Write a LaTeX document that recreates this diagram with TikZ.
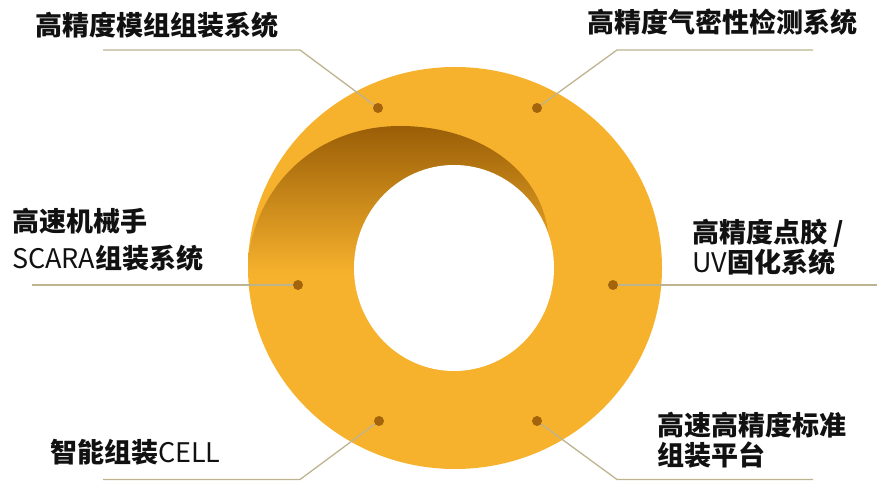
\documentclass[tikz,border=0pt]{standalone}
\usepackage{fontspec}
\setmainfont{Noto Sans CJK SC}

\definecolor{ringyellow}{HTML}{F7B22D}
\definecolor{shadedark}{HTML}{9A5E07}
\definecolor{shademid}{HTML}{CF8F1A}
\definecolor{dotbrown}{HTML}{A3640C}
\definecolor{leadgray}{HTML}{BDB48F}
\definecolor{textblack}{HTML}{111111}

\begin{document}
\begin{tikzpicture}[x=1pt, y=1pt,
  dot/.style={circle, fill=dotbrown, inner sep=0pt, minimum size=10pt},
  lead/.style={draw=leadgray, line width=1.3pt},
  tag/.style={anchor=west, inner sep=0pt, align=left, text=textblack,
    font=\fontsize{27}{37}\selectfont\bfseries},
  tagnarrow/.style={tag, font=\fontsize{27}{30}\selectfont\bfseries}]

\useasboundingbox (0,0) rectangle (877,481);

% Ring
\fill[ringyellow] (455,213) ellipse[x radius=207, y radius=201];

% Shadow over the upper left of the ring
\begin{scope}
  \clip (455,213) ellipse[x radius=207, y radius=201];
  \shade[top color=shadedark, middle color=shademid, bottom color=ringyellow]
    (246,206) .. controls (252,300) and (320,355) .. (400,355)
    .. controls (480,355) and (545,310) .. (549,240) -- (549,206) -- cycle;
\end{scope}

% Hole
\fill[white] (454,213) ellipse[x radius=100, y radius=103];

% Knees and ends of the leader lines
\coordinate (tlk) at (300,431); \coordinate (tle) at (103,431);
\coordinate (trk) at (617,431); \coordinate (tre) at (813,431);
\coordinate (mle) at (32,196);
\coordinate (mre) at (877,196);
\coordinate (blk) at (300,1.5); \coordinate (ble) at (103,1.5);
\coordinate (brk) at (617,1.5); \coordinate (bre) at (813,1.5);

% Dots
\foreach \name/\x/\y in {tl/378/373, tr/537/373, ml/298/196, mr/613/196, bl/379/60, br/537/60}
  \node[dot] (\name) at (\x,\y) {};

% Leader lines
\draw[lead] (tl) -- (tlk) -- (tle);
\draw[lead] (tr) -- (trk) -- (tre);
\draw[lead] (ml) -- (mle);
\draw[lead] (mr) -- (mre);
\draw[lead] (bl) -- (blk) -- (ble);
\draw[lead] (br) -- (brk) -- (bre);

% Labels
\node[tag] (ttl) at (35,456) {高精度模组组装系统};
\node[tag] (ttr) at (587,459) {高精度气密性检测系统};
\node[tag] (tml) at (12,241) {高速机械手\\{\mdseries SCARA}组装系统};
\node[tagnarrow] (tmr) at (692,234) {高精度点胶 /\\{\mdseries UV}固化系统};
\node[tag] (tbl) at (50,29) {智能组装{\mdseries CELL}};
\node[tagnarrow] (tbr) at (657,41) {高速高精度标准\\组装平台};

\end{tikzpicture}
\end{document}
